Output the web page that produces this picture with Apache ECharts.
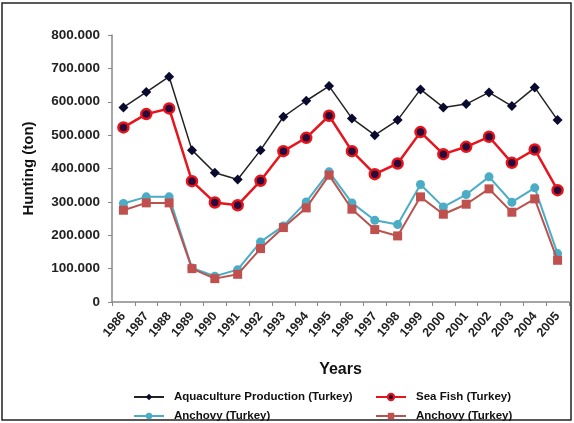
<!DOCTYPE html>
<html>
<head>
<meta charset="utf-8">
<script src="https://cdn.jsdelivr.net/npm/echarts@6/dist/echarts.min.js"></script>
<style>
  html, body { margin: 0; padding: 0; background: #fff; }
  #chart { width: 574px; height: 423px; }
</style>
</head>
<body>
<div id="chart"></div>
<script>
var years = ['1986','1987','1988','1989','1990','1991','1992','1993','1994','1995',
             '1996','1997','1998','1999','2000','2001','2002','2003','2004','2005'];
// tons
var aquaculture = [583000,629000,675000,455000,387000,367000,455000,555000,603000,647000,
                   550000,500000,545000,637000,583000,593000,628000,587000,643000,545000];
var seaFish = [523000,563000,580000,362000,298000,290000,363000,452000,492000,558000,
               452000,383000,415000,509000,443000,465000,495000,417000,457000,335000];
var anchovyA = [295000,315000,315000,102000,77000,97000,180000,228000,300000,390000,
                297000,245000,232000,352000,285000,322000,375000,299000,342000,145000];
var anchovyB = [275000,297000,297000,100000,70000,83000,160000,223000,282000,380000,
                278000,217000,198000,315000,263000,293000,339000,269000,309000,125000];
var yTicks = [0, 100000, 200000, 300000, 400000, 500000, 600000, 700000, 800000];
// the two anchovy series carry the same label in the original; the extra space keeps the names unique
var seriesNames = ['Aquaculture Production (Turkey)', 'Sea Fish (Turkey)',
                   'Anchovy (Turkey)', 'Anchovy  (Turkey)'];

var chart = echarts.init(document.getElementById('chart'));

function fmt(v) {
    if (v === 0) return '0';
    return String(v).replace(/\B(?=(\d{3})+(?!\d))/g, '.');
}

var font = 'Liberation Sans, Arial, sans-serif';

// one legend per entry, laid out as 2x2 like the original
var legendPos = [[128, 386], [370, 386], [128, 405], [370, 405]];
var legends = seriesNames.map(function (n, i) {
    return {
        left: legendPos[i][0], top: legendPos[i][1],
        itemWidth: 30, itemHeight: 8, itemGap: 0,
        formatter: function (name) { return name.replace('  ', ' '); },
        textStyle: { fontFamily: font, fontWeight: 'bold', fontSize: 11.5, color: '#111', padding: [0, 0, 0, 5] },
        data: [n]
    };
});

var option = {
    animation: false,
    backgroundColor: '#fff',
    graphic: [{
        type: 'rect',
        shape: { x: 2, y: 3, width: 569, height: 417 },
        style: { fill: 'none', stroke: '#222', lineWidth: 1.5 },
        silent: true
    }],
    grid: { left: 112, right: 5, top: 35, bottom: 121 },
    legend: legends,
    xAxis: {
        type: 'category',
        data: years,
        boundaryGap: true,
        name: 'Years',
        nameLocation: 'middle',
        nameGap: 60,
        nameTextStyle: { fontFamily: font, fontWeight: 'bold', fontSize: 16, color: '#111' },
        axisLine: { lineStyle: { color: '#888', width: 1.5 } },
        axisTick: { show: true, length: 4, lineStyle: { color: '#888' } },
        axisLabel: {
            rotate: 50, interval: 0, margin: 12,
            fontFamily: font, fontWeight: 'bold', fontSize: 12.5, color: '#222'
        },
        splitLine: { show: false }
    },
    yAxis: {
        type: 'value',
        min: 0, max: 800000, interval: 100000,
        name: 'Hunting (ton)',
        nameLocation: 'middle',
        nameGap: 76,
        nameRotate: 90,
        nameTextStyle: { fontFamily: font, fontWeight: 'bold', fontSize: 15, color: '#111' },
        axisLine: { show: true, lineStyle: { color: '#888', width: 1.5 } },
        axisTick: { show: true, length: 4, lineStyle: { color: '#888' } },
        axisLabel: {
            fontFamily: font, fontWeight: 'bold', fontSize: 13.5, color: '#222', margin: 12,
            formatter: function (v) { return yTicks.indexOf(v) >= 0 ? fmt(v) : ''; }
        },
        splitLine: { show: false }
    },
    series: [{
        name: seriesNames[0],
        type: 'line',
        data: aquaculture,
        symbol: 'diamond', symbolSize: 10,
        lineStyle: { color: '#222', width: 1.5 },
        itemStyle: { color: '#0a0a30', borderColor: '#0a0a30', borderWidth: 0 },
        z: 4
    }, {
        name: seriesNames[1],
        type: 'line',
        data: seaFish,
        symbol: 'circle', symbolSize: 10,
        lineStyle: { color: '#e8141c', width: 2.5 },
        itemStyle: { color: '#2a0a3a', borderColor: '#e8141c', borderWidth: 2.5 },
        z: 3
    }, {
        name: seriesNames[2],
        type: 'line',
        data: anchovyA,
        symbol: 'circle', symbolSize: 9,
        lineStyle: { color: '#4bacc6', width: 2 },
        itemStyle: { color: '#4bacc6', borderColor: '#4bacc6', borderWidth: 0 },
        z: 1
    }, {
        name: seriesNames[3],
        type: 'line',
        data: anchovyB,
        symbol: 'rect', symbolSize: 9,
        lineStyle: { color: '#b85450', width: 2 },
        itemStyle: { color: '#c0504d', borderColor: '#c0504d', borderWidth: 0 },
        z: 2
    }]
};

chart.setOption(option);
</script>
</body>
</html>
